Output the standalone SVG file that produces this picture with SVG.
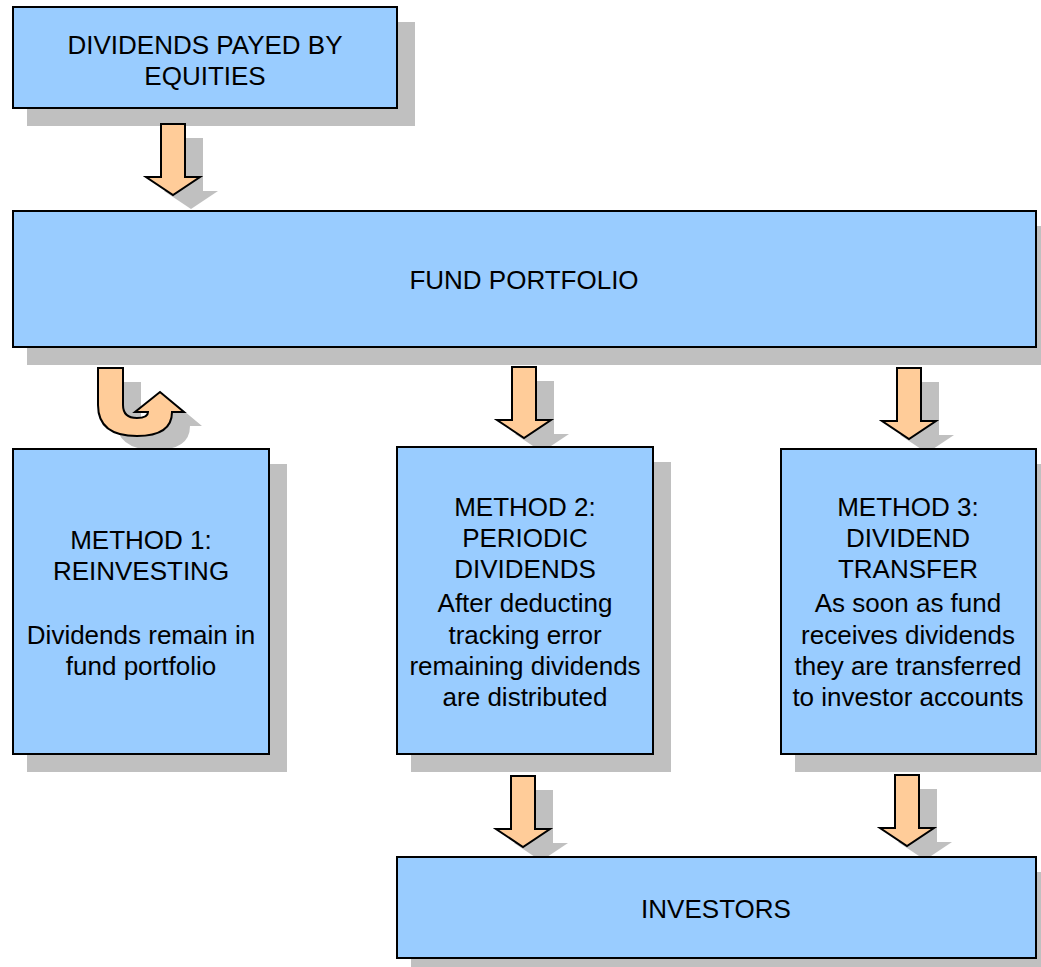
<svg xmlns="http://www.w3.org/2000/svg" width="1041" height="967" viewBox="0 0 1041 967">
<defs>
<style>
.box{fill:#99ccff;stroke:#000;stroke-width:2}
.sh{fill:#c0c0c0}
.arr{fill:#ffcc99;stroke:#000;stroke-width:2;stroke-linejoin:miter}
.ash{fill:#c0c0c0}
text{font-family:"Liberation Sans",Arial,sans-serif;font-size:26px;fill:#000;text-anchor:middle}
</style>
<path id="down" d="M -12 0 L 12 0 L 12 53 L 27 53 L 0 71 L -27 53 L -12 53 Z"/>
</defs>
<rect width="1041" height="967" fill="#fff"/>
<g id="shadows">
<rect class="sh" x="27" y="22" width="388" height="104"/>
<rect class="sh" x="27" y="226" width="1027" height="139"/>
<rect class="sh" x="27" y="464" width="260" height="308"/>
<rect class="sh" x="411" y="462" width="260" height="310"/>
<rect class="sh" x="795" y="464" width="259" height="308"/>
<rect class="sh" x="411" y="872" width="643" height="104"/>
</g>
<g id="connectors">
<use href="#down" class="ash" transform="translate(191,138)"/>
<use href="#down" class="arr" transform="translate(173,124)"/>
<use href="#down" class="ash" transform="translate(542,381)"/>
<use href="#down" class="arr" transform="translate(524,367)"/>
<use href="#down" class="ash" transform="translate(927,382)"/>
<use href="#down" class="arr" transform="translate(909,368)"/>
<use href="#down" class="ash" transform="translate(541,790)"/>
<use href="#down" class="arr" transform="translate(523,776)"/>
<use href="#down" class="ash" transform="translate(925,789)"/>
<use href="#down" class="arr" transform="translate(907,775)"/>
<path class="ash" transform="translate(18,14)" d="M 98 368 L 123 368 L 123 405 Q 123 418 137 418 Q 148 418 148 412 L 135 412 L 160 392 L 184 412 L 172 412 Q 172 436 137 436 Q 98 436 98 405 Z"/>
<path class="arr" d="M 98 368 L 123 368 L 123 405 Q 123 418 137 418 Q 148 418 148 412 L 135 412 L 160 392 L 184 412 L 172 412 Q 172 436 137 436 Q 98 436 98 405 Z"/>
</g>
<g id="dividends">
<rect class="box" x="13" y="7" width="384" height="101"/>
<text x="205" y="54">DIVIDENDS PAYED BY</text>
<text x="205" y="85">EQUITIES</text>
</g>
<g id="fund">
<rect class="box" x="13" y="211" width="1023" height="136"/>
<text x="524" y="289">FUND PORTFOLIO</text>
</g>
<g id="method1">
<rect class="box" x="13" y="449" width="256" height="305"/>
<text x="141" y="549">METHOD 1:</text>
<text x="141" y="580">REINVESTING</text>
<text x="141" y="644">Dividends remain in</text>
<text x="141" y="675">fund portfolio</text>
</g>
<g id="method2">
<rect class="box" x="397" y="447" width="256" height="307"/>
<text x="525" y="516">METHOD 2:</text>
<text x="525" y="547">PERIODIC</text>
<text x="525" y="578">DIVIDENDS</text>
<text x="525" y="612">After deducting</text>
<text x="525" y="644">tracking error</text>
<text x="525" y="675">remaining dividends</text>
<text x="525" y="706">are distributed</text>
</g>
<g id="method3">
<rect class="box" x="781" y="449" width="255" height="305"/>
<text x="908" y="516">METHOD 3:</text>
<text x="908" y="547">DIVIDEND</text>
<text x="908" y="578">TRANSFER</text>
<text x="908" y="612">As soon as fund</text>
<text x="908" y="644">receives dividends</text>
<text x="908" y="675">they are transferred</text>
<text x="908" y="706">to investor accounts</text>
</g>
<g id="investors">
<rect class="box" x="397" y="857" width="639" height="101"/>
<text x="716" y="918">INVESTORS</text>
</g>
</svg>
